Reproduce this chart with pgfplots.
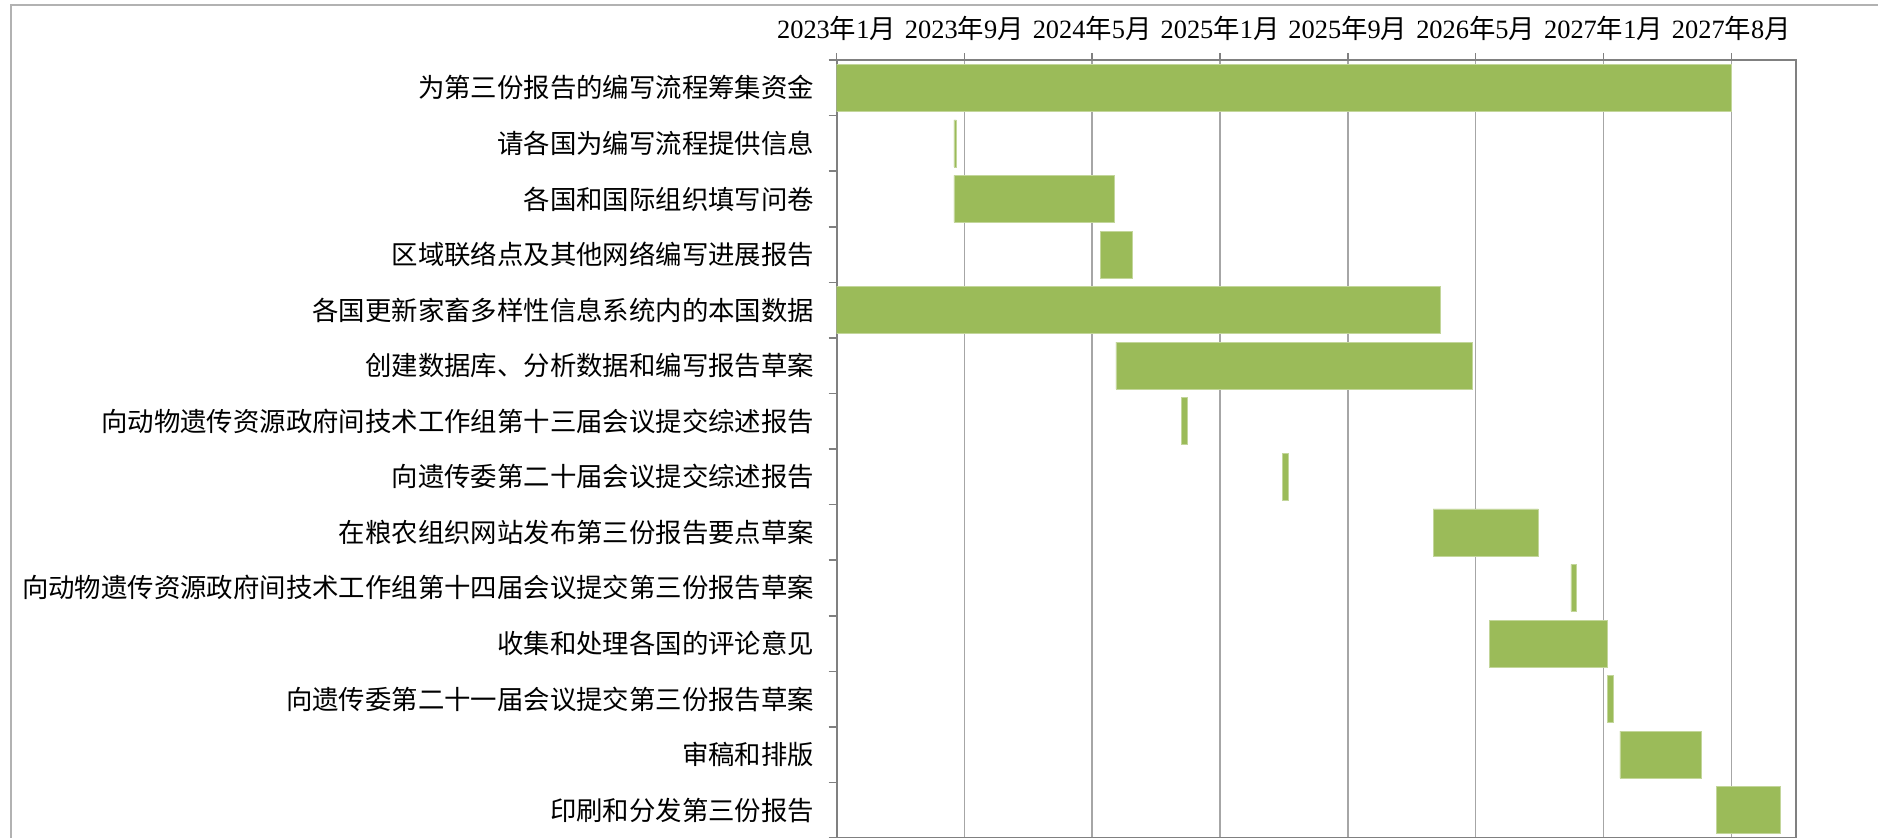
\documentclass[border=0pt]{standalone}
\usepackage{fontspec}
\setmainfont{Liberation Serif}
\newfontfamily\cjk{Noto Sans CJK SC}
\usepackage{pgfplots}
\usepackage{pgfplotstable}
\pgfplotsset{compat=1.18}
\definecolor{barc}{HTML}{9BBB59}
\pgfplotstableread{
r s d
1 0 1700
2 223 5
3 223 305
4 501 61
5 0 1147
6 531 678
7 656 10
8 848 10
9 1134 200
10 1396 11
11 1241 225
12 1466 11
13 1489 155
14 1673 122
}\gantt
\begin{document}
\begin{tikzpicture}
\useasboundingbox (0,0) rectangle (939pt,-418.5pt);
\draw[gray!60, line width=1pt] (5.5pt,-420pt) -- (5.5pt,-2.5pt) -- (940pt,-2.5pt);
\begin{axis}[
  at={(418.25pt,-30pt)}, anchor=north west,
  scale only axis, width=479.5pt, height=389pt,
  xmin=0, xmax=1823, ymin=0.5, ymax=14.5,
  enlargelimits=false,
  y dir=reverse,
  xbar stacked, bar width=23.5pt,
  axis line style={draw=gray, line width=1pt},
  tick align=outside,
  major tick length=3.5pt,
  minor tick length=4pt,
  tick style={gray, line width=0.8pt},
  every major y tick/.style={draw=none},
  xtick pos=top, ytick pos=left,
  xtick={0,243,486,729,972,1215,1458,1701},
  xticklabels={2023{\cjk 年}1{\cjk 月},2023{\cjk 年}9{\cjk 月},2024{\cjk 年}5{\cjk 月},2025{\cjk 年}1{\cjk 月},2025{\cjk 年}9{\cjk 月},2026{\cjk 年}5{\cjk 月},2027{\cjk 年}1{\cjk 月},2027{\cjk 年}8{\cjk 月}},
  xticklabel pos=top,
  xticklabel style={yshift=2.5pt},
  ytick={1,...,14},
  minor ytick={0.5,1.5,2.5,3.5,4.5,5.5,6.5,7.5,8.5,9.5,10.5,11.5,12.5,13.5,14.5},
  yticklabels={
    {\cjk 为第三份报告的编写流程筹集资金},
    {\cjk 请各国为编写流程提供信息},
    {\cjk 各国和国际组织填写问卷},
    {\cjk 区域联络点及其他网络编写进展报告},
    {\cjk 各国更新家畜多样性信息系统内的本国数据},
    {\cjk 创建数据库、分析数据和编写报告草案},
    {\cjk 向动物遗传资源政府间技术工作组第十三届会议提交综述报告},
    {\cjk 向遗传委第二十届会议提交综述报告},
    {\cjk 在粮农组织网站发布第三份报告要点草案},
    {\cjk 向动物遗传资源政府间技术工作组第十四届会议提交第三份报告草案},
    {\cjk 收集和处理各国的评论意见},
    {\cjk 向遗传委第二十一届会议提交第三份报告草案},
    {\cjk 审稿和排版},
    {\cjk 印刷和分发第三份报告}},
  yticklabel style={xshift=-4.2pt},
  ticklabel style={font=\fontsize{13.2}{15}\selectfont, text=black},
  xmajorgrids,
  major grid style={draw=gray!70, line width=0.75pt},
]
\addplot[draw=none, fill=none] table[x=s, y=r] {\gantt};
\addplot[fill=barc, draw=barc!60!white, line width=0.3pt] table[x=d, y=r] {\gantt};
\end{axis}
\end{tikzpicture}
\end{document}
